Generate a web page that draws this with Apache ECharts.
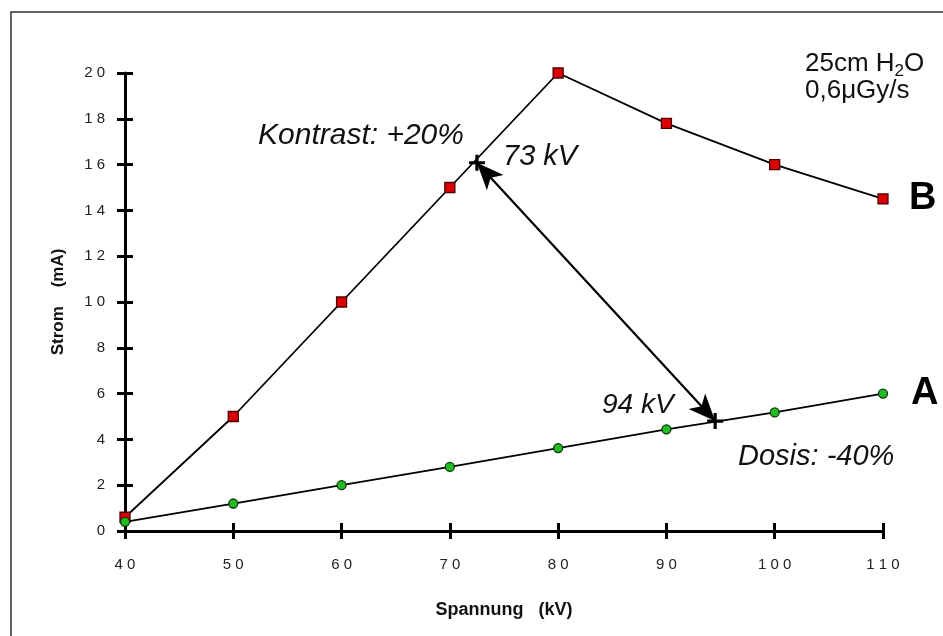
<!DOCTYPE html>
<html>
<head>
<meta charset="utf-8">
<script src="https://cdn.jsdelivr.net/npm/echarts@6/dist/echarts.min.js"></script>
<style>
  html, body { margin: 0; padding: 0; background: #fff; }
  #chart { width: 943px; height: 636px; }
</style>
</head>
<body>
<div id="chart"></div>
<script>
// Spannung (kV) auf der x-Achse
const voltages = [40, 50, 60, 70, 80, 90, 100, 110];
// Strom (mA) – Kurve B (rote Quadrate)
const currentB = [0.6, 5.0, 10.0, 15.0, 20.0, 17.8, 16.0, 14.5];
// Strom (mA) – Kurve A (grüne Kreise)
const currentA = [0.4, 1.2, 2.0, 2.8, 3.62, 4.44, 5.18, 6.0];
// Markierte Arbeitspunkte (kV, mA): 73 kV auf B, 94 kV auf A
const markedPoints = [[72.5, 16.08], [94.5, 4.8]];
const xTicks = { min: 40, max: 110, step: 10 };
const yTicks = { min: 0, max: 20, step: 2 };

const FONT = "'Liberation Sans', Arial, sans-serif";
const spaced = (v) => String(v).split("").join(" ");

const chart = echarts.init(document.getElementById("chart"));

const tickStyle = { color: "#000", width: 3 };
const baseX = {
  type: "value",
  min: xTicks.min,
  max: xTicks.max,
  interval: xTicks.step,
  position: "bottom",
  offset: 0,
  splitLine: { show: false },
};
const baseY = {
  type: "value",
  min: yTicks.min,
  max: yTicks.max,
  interval: yTicks.step,
  position: "left",
  offset: 0,
  splitLine: { show: false },
};

const option = {
  backgroundColor: "#fff",
  animation: false,
  textStyle: { fontFamily: FONT },
  grid: { left: 125, right: 60, top: 73, bottom: 105 },
  xAxis: [
    {
      ...baseX,
      name: "Spannung   (kV)",
      nameLocation: "middle",
      nameGap: 70,
      nameTextStyle: { fontSize: 18, fontWeight: "bold", color: "#111", fontFamily: FONT },
      axisLine: { lineStyle: { color: "#000", width: 3 } },
      axisTick: { show: true, inside: false, length: 8, lineStyle: tickStyle },
      axisLabel: { margin: 26, fontSize: 15, color: "#222", formatter: spaced, fontFamily: FONT },
    },
    {
      // zweite Achse nur für die nach innen zeigenden Tick-Hälften
      ...baseX,
      axisLine: { show: true, onZero: false, lineStyle: { color: "rgba(0,0,0,0)", width: 0 } },
      axisTick: { show: true, inside: true, length: 8, lineStyle: tickStyle },
      axisLabel: { show: false },
    },
  ],
  yAxis: [
    {
      ...baseY,
      name: "Strom    (mA)",
      nameLocation: "middle",
      nameGap: 58,
      nameRotate: 90,
      nameTextStyle: { fontSize: 17, fontWeight: "bold", color: "#111", fontFamily: FONT },
      axisLine: { lineStyle: { color: "#000", width: 3 } },
      axisTick: { show: true, inside: false, length: 8, lineStyle: tickStyle },
      axisLabel: { margin: 20, fontSize: 15, color: "#222", formatter: spaced, fontFamily: FONT },
    },
    {
      ...baseY,
      axisLine: { show: true, onZero: false, lineStyle: { color: "rgba(0,0,0,0)", width: 0 } },
      axisTick: { show: true, inside: true, length: 8, lineStyle: tickStyle },
      axisLabel: { show: false },
    },
  ],
  series: [
    {
      name: "B",
      type: "line",
      data: voltages.map((v, i) => [v, currentB[i]]),
      symbol: "rect",
      symbolSize: 10,
      lineStyle: { color: "#000", width: 1.8 },
      itemStyle: { color: "#dd0000", borderColor: "#4a0000", borderWidth: 1.3 },
      endLabel: {
        show: true,
        formatter: "B",
        distance: 26,
        fontSize: 38,
        fontWeight: "bold",
        color: "#000",
        fontFamily: FONT,
      },
      z: 3,
    },
    {
      name: "A",
      type: "line",
      data: voltages.map((v, i) => [v, currentA[i]]),
      symbol: "circle",
      symbolSize: 9,
      lineStyle: { color: "#000", width: 1.8 },
      itemStyle: { color: "#22bb22", borderColor: "#0b3a0b", borderWidth: 1.3 },
      endLabel: {
        show: true,
        formatter: "A",
        distance: 28,
        fontSize: 38,
        fontWeight: "bold",
        color: "#000",
        fontFamily: FONT,
      },
      z: 4,
    },
    {
      name: "Arbeitspunkte",
      type: "scatter",
      data: markedPoints,
      symbol: "path://M0,6L15,6L15,9L0,9Z M6,0L9,0L9,15L6,15Z",
      symbolSize: 16,
      itemStyle: { color: "#000", opacity: 1 },
      markLine: {
        silent: true,
        symbol: ["arrow", "arrow"],
        symbolSize: [17, 27],
        label: { show: false },
        lineStyle: { color: "#000", width: 2.2, type: "solid", opacity: 1 },
        data: [[{ coord: markedPoints[0] }, { coord: markedPoints[1] }]],
      },
      z: 5,
    },
  ],
  graphic: [
    {
      type: "rect",
      shape: { x: 11, y: 12, width: 1000, height: 1000 },
      style: { fill: "none", stroke: "#333", lineWidth: 1.5 },
      silent: true,
    },
    {
      type: "text",
      x: 258,
      y: 136,
      style: { text: "Kontrast: +20%", font: "italic 30px " + FONT, fill: "#111", verticalAlign: "middle" },
    },
    {
      type: "text",
      x: 503,
      y: 157,
      style: { text: "73 kV", font: "italic 29px " + FONT, fill: "#111", verticalAlign: "middle" },
    },
    {
      type: "text",
      x: 602,
      y: 405,
      style: { text: "94 kV", font: "italic 28px " + FONT, fill: "#111", verticalAlign: "middle" },
    },
    {
      type: "text",
      x: 738,
      y: 457,
      style: { text: "Dosis: -40%", font: "italic 29px " + FONT, fill: "#111", verticalAlign: "middle" },
    },
    {
      type: "text",
      x: 805,
      y: 64,
      style: {
        text: "25cm H{sub|2}O",
        font: "26px " + FONT,
        fill: "#111",
        verticalAlign: "middle",
        rich: { sub: { fontSize: 17, fontFamily: FONT, fill: "#111", padding: [14, 0, 0, 0] } },
      },
    },
    {
      type: "text",
      x: 805,
      y: 91,
      style: { text: "0,6\u03bcGy/s", font: "26px " + FONT, fill: "#111", verticalAlign: "middle" },
    },
  ],
};

chart.setOption(option);
</script>
</body>
</html>
